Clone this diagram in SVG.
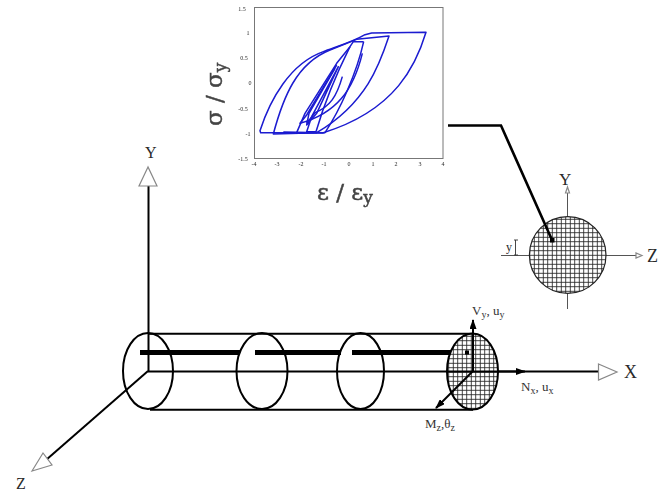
<svg xmlns="http://www.w3.org/2000/svg" width="669" height="493" viewBox="0 0 669 493">
<defs>
<style>
text{font-family:"Liberation Serif",serif;fill:#2a2a2a}
.tick{font-family:"Liberation Sans",sans-serif;font-size:6px;fill:#777;text-anchor:middle}
.big{font-family:"DejaVu Serif",serif;font-size:23px;fill:#444;stroke:#444;stroke-width:.5}
.lab{font-size:13px;fill:#333}
.sub{font-size:10px}
.ln{fill:none;stroke:#000;stroke-width:2}
.bar{stroke:#000;stroke-width:5;fill:none}
.open{fill:#fff;stroke:#888;stroke-width:1.2}
.hys{fill:none;stroke:#1a1ad0;stroke-width:4.5;stroke-linejoin:round}
</style>
<pattern id="grid" width="4.5" height="4.5" patternUnits="userSpaceOnUse" x="1" y="1">
<path d="M2.250 0V4.500M0 2.250H4.500" stroke="#222" stroke-width=".85" fill="none"/>
</pattern>
<filter id="soft" x="-5%" y="-5%" width="110%" height="110%"><feGaussianBlur stdDeviation=".5"/></filter>
<marker id="solid" viewBox="0 0 10 10" refX="9" refY="5" markerWidth="10" markerHeight="7" markerUnits="userSpaceOnUse" orient="auto" preserveAspectRatio="none"><path d="M0 0L10 5L0 10Z" fill="#000"/></marker>
</defs>

<rect width="669" height="493" fill="#fff"/>

<g id="hysteresis-plot" filter="url(#soft)">
<rect x="254.500" y="7.500" width="188.500" height="151" fill="#fff" stroke="#777" stroke-width="1"/>
<g transform="translate(190 0) scale(.33333)">
<path class="hys" d="M708 97C680 190 620 330 400 398L212 398L210 392C240 300 300 190 400 155C440 140 490 125 525 104L545 99L708 97Z"/>
<path class="hys" d="M597 108C570 190 530 310 380 398L250 402C280 290 320 190 420 150L500 118L597 108Z"/>
<path class="hys" d="M521 125C500 220 450 330 405 398L320 398L345 340L440 190L480 140L490 125L521 125"/>
<path class="hys" d="M517 160C490 270 440 340 330 370L350 345L440 195"/>
<path class="hys" d="M480 140C440 220 400 320 378 395L350 395L365 350L445 200L380 340L350 375L357 340L435 205"/>
<path class="hys" d="M457 230C440 290 420 320 375 338L350 370M280 396L400 398"/>
</g>
<g class="tick">
<text x="242" y="11">1.5</text><text x="248" y="35">1</text><text x="244" y="60">0.5</text><text x="250" y="85">0</text><text x="243" y="111">-0.5</text><text x="248" y="136">-1</text><text x="243" y="161">-1.5</text>
<text x="254" y="166">-4</text><text x="277" y="166">-3</text><text x="301" y="166">-2</text><text x="324" y="166">-1</text><text x="349" y="166">0</text><text x="373" y="166">1</text><text x="396" y="166">2</text><text x="420" y="166">3</text><text x="443" y="166">4</text>
</g>
<text class="big" transform="translate(222 126) rotate(-90)">σ / σ<tspan font-size="17" dy="4">y</tspan></text>
<text class="big" x="317" y="200">ε / ε<tspan font-size="17" dy="3">y</tspan></text>
</g>

<g id="axes">
<path class="ln" d="M148.500 371V186"/>
<path class="ln" d="M148 371.500H598"/>
<path class="ln" d="M148 371L46 460"/>
<path class="open" d="M148 167L139 186H157Z"/>
<path class="open" d="M598.500 364L617 372L598.500 380Z"/>
<path class="open" d="M32 471L43 453L52 465Z"/>
</g>

<g id="beam">
<path class="ln" d="M148 333.700H473M150 409.700H473"/>
<path class="bar" d="M140 352.500H240M255 352.500H341M352 352.500H451"/>
<ellipse class="ln" cx="148" cy="371" rx="25" ry="38"/>
<ellipse class="ln" cx="262" cy="371" rx="25.500" ry="38"/>
<ellipse class="ln" cx="360.500" cy="371" rx="23.500" ry="38"/>
</g>

<g id="end-section">
<ellipse cx="472.500" cy="371.500" rx="25.500" ry="38" fill="#fff"/>
<ellipse cx="472.500" cy="371.500" rx="25.500" ry="38" fill="url(#grid)" stroke="#000" stroke-width="2"/>
<rect x="465" y="350.500" width="4" height="4" fill="#000"/>
</g>

<g id="cross-section">
<path d="M567.500 190V309M501 255.500H636" stroke="#555" stroke-width="1" fill="none"/>
<circle cx="567.700" cy="255" r="38.300" fill="#fff"/>
<circle cx="567.700" cy="255" r="38.300" fill="url(#grid)" stroke="#222" stroke-width="1.200"/>
<path class="open" stroke-width=".8" d="M567.500 187L565.500 193H569.500Z"/>
<path class="open" stroke-width=".8" d="M642 255.500L636 253V258Z"/>
<path d="M514 240H518M515.500 240V255M514 255H518" stroke="#333" stroke-width=".9" fill="none"/>
</g>

<g id="connectors">
<path d="M448 125.500H501L552 240" fill="none" stroke="#000" stroke-width="2.600"/>
<rect x="550" y="238" width="4.500" height="4.500" fill="#000"/>
<path d="M473 371V320" class="ln" marker-end="url(#solid)"/>
<path d="M473 371L436 408" class="ln" marker-end="url(#solid)"/>
<path d="M447 371.500H525" class="ln" marker-end="url(#solid)"/>
</g>

<g id="labels">
<text x="145" y="158" font-size="16">Y</text>
<text x="624" y="378" font-size="18">X</text>
<text x="16" y="489" font-size="16">Z</text>
<text x="559" y="185" font-size="17">Y</text>
<text x="647" y="262" font-size="18">Z</text>
<text x="506" y="251" font-size="12">y</text>
<text class="lab" x="472" y="315">V<tspan class="sub" dy="3">y</tspan><tspan dy="-3">, u</tspan><tspan class="sub" dy="3">y</tspan></text>
<text class="lab" x="521" y="391">N<tspan class="sub" dy="3">x</tspan><tspan dy="-3">, u</tspan><tspan class="sub" dy="3">x</tspan></text>
<text class="lab" x="425" y="428">M<tspan class="sub" dy="3">z</tspan><tspan dy="-3">,θ</tspan><tspan class="sub" dy="3">z</tspan></text>
</g>
</svg>
